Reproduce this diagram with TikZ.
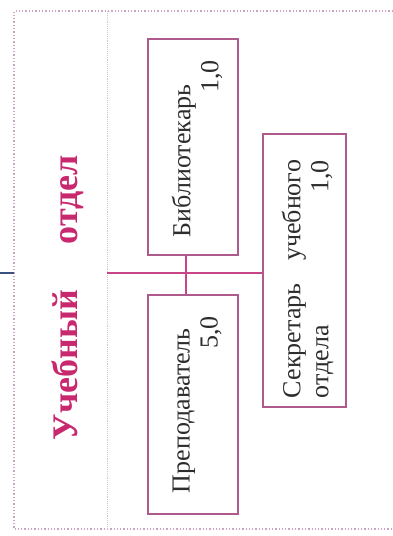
\documentclass[tikz,border=0pt]{standalone}
\usepackage{fontspec}
\setmainfont{Liberation Serif}
\definecolor{boxc}{RGB}{175,90,140}
\definecolor{linec}{RGB}{200,70,135}
\definecolor{titlec}{RGB}{200,40,110}
\definecolor{dotc}{RGB}{205,165,195}
\definecolor{sepc}{RGB}{215,195,210}
\definecolor{txtc}{RGB}{45,45,45}
\definecolor{tickc}{RGB}{60,80,130}
\begin{document}
\begin{tikzpicture}[x=1pt,y=-1pt,
  boxr/.style={draw=boxc, line width=1.1pt, rectangle, inner sep=0pt},
  lbl/.style={rotate=90, inner sep=0pt, text=txtc, align=left, font=\fontsize{26}{28}\selectfont},
  ttl/.style={rotate=90, inner sep=0pt, text=titlec, align=left, font=\fontsize{36}{40}\selectfont\bfseries},
  conn/.style={draw=linec, line width=1.1pt},
  border/.style={draw=dotc, line width=1.3pt, dotted},
  sepline/.style={draw=sepc, line width=0.9pt, densely dotted}]
\useasboundingbox (0,0) rectangle (393,536);
\fill[white] (0,0) rectangle (393,536);
% frame
\coordinate (fTL) at (14,11);
\coordinate (fTR) at (393,11);
\coordinate (fBL) at (14,529);
\coordinate (fBR) at (393,529);
\draw[border] (fTR) -- (fTL) -- (fBL) -- (fBR);
\coordinate (sT) at (107,11);
\coordinate (sB) at (107,529);
\draw[sepline] (sT) -- (sB);
% title
\node[ttl, text width=285pt] (title) at (68,297.5) {Учебный\hfill отдел};
% boxes
\node[boxr, minimum width=90pt, minimum height=216pt] (bib) at (193,147) {};
\node[boxr, minimum width=90pt, minimum height=219pt] (prep) at (193,404.5) {};
\node[boxr, minimum width=83pt, minimum height=273pt] (sec) at (304.5,270.5) {};
\node[lbl, text width=177pt] (bibt) at (197,148.5) {Библиотекарь\\\hfill 1,0};
\node[lbl, text width=177pt] (prept) at (197,404.5) {Преподаватель\\\hfill 5,0};
\node[lbl, text width=238pt] (sect) at (307.5,279) {Секретарь\hfill учебного\\отдела\hfill 1,0};
% connectors
\coordinate (j) at (186,273);
\coordinate (hl) at (107,273);
\draw[conn] (j |- bib.south) -- (j |- prep.north);
\draw[conn] (hl) -- (hl -| sec.west);
\coordinate (t0) at (0,273);
\coordinate (t1) at (14,273);
\draw[draw=tickc, line width=1.2pt] (t0) -- (t1);
\end{tikzpicture}
\end{document}
